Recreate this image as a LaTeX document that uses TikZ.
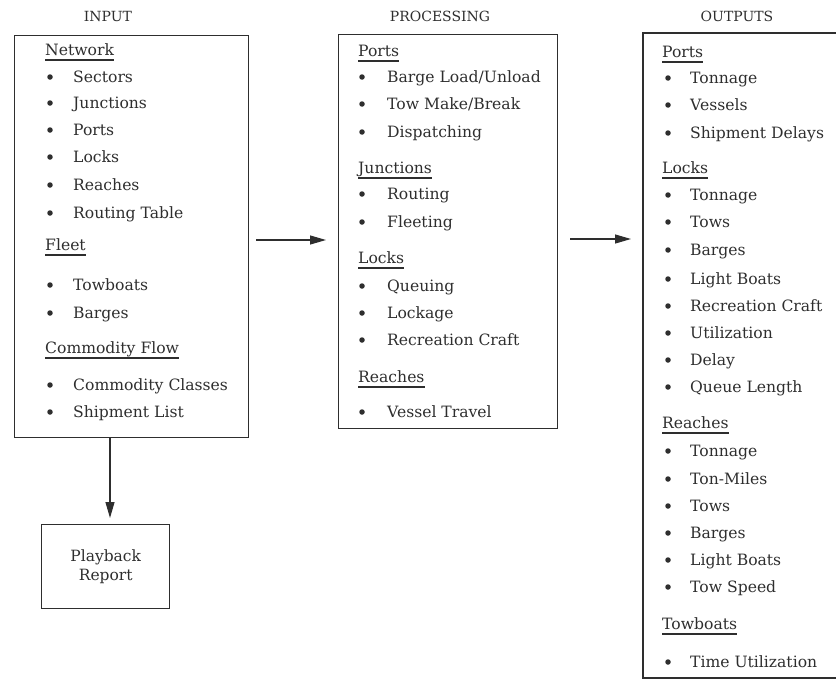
\documentclass[tikz,border=0pt]{standalone}
\usepackage{fontspec}
\setmainfont{DejaVu Serif}
\usetikzlibrary{arrows.meta}
\definecolor{ink}{HTML}{2E2E2E}
\tikzset{
  title/.style={font=\fontsize{14}{16}\selectfont, text=ink, inner sep=0pt, anchor=base},
  frame/.style={draw=ink, line width=1.4pt},
  headtext/.style={font=\fontsize{15.6}{18}\selectfont, text=ink, inner sep=0pt, anchor=base west},
  itemtext/.style={font=\fontsize{15.6}{18}\selectfont, text=ink, inner sep=0pt, anchor=base west},
  dot/.style={circle, fill=ink, inner sep=0pt, minimum size=5.5pt},
  uline/.style={draw=ink, line width=1.3pt},
  flow/.style={draw=ink, line width=1.2pt, -{Triangle[length=16pt, width=9pt]}},
}
% heading: name, x, y (visual centre), text
\newcommand\hd[4]{%
  \node[headtext] (#1) at (#2,#3+5.5) {#4};
  \draw[uline] ([yshift=-4.5pt]#1.base west) -- ([yshift=-4.5pt]#1.base east);}
% bullet item: name, bullet x, text x, y, text
\newcommand\bl[5]{%
  \node[dot] (#1d) at (#2,#4) {};
  \node[itemtext] (#1) at (#3,#4+5.5) {#5};}
\begin{document}
\begin{tikzpicture}[x=1pt, y=-1pt]
\useasboundingbox (0,0) rectangle (836,680);

% column titles
\node[title] (tin) at (108,21) {INPUT};
\node[title] (tpr) at (440,21) {PROCESSING};
\node[title] (tout) at (737,21) {OUTPUTS};

% frames
\node[frame, minimum width=234pt, minimum height=402pt, anchor=north west, inner sep=0pt] (input) at (14,35) {};
\node[frame, minimum width=219pt, minimum height=394pt, anchor=north west, inner sep=0pt] (proc) at (338,34) {};
% the outputs frame runs on past the right edge
\coordinate (otr) at (836,33);
\coordinate (otl) at (643,33);
\coordinate (obl) at (643,678);
\coordinate (obr) at (836,678);
\draw[frame] (otr) -- (otl) -- (obl) -- (obr);
\node[frame, minimum width=128pt, minimum height=84pt, anchor=north west, inner sep=0pt,
      align=center, font=\fontsize{15.5}{19}\selectfont, text=ink] (play) at (41,524) {Playback\\Report};

% input column
\hd{h1}{45}{50}{Network}
\bl{i1}{50}{73}{77}{Sectors}
\bl{i2}{50}{73}{103}{Junctions}
\bl{i3}{50}{73}{130}{Ports}
\bl{i4}{50}{73}{157}{Locks}
\bl{i5}{50}{73}{185}{Reaches}
\bl{i6}{50}{73}{213}{Routing Table}
\hd{h2}{45}{245}{Fleet}
\bl{i7}{50}{73}{285}{Towboats}
\bl{i8}{50}{73}{313}{Barges}
\hd{h3}{45}{348}{Commodity Flow}
\bl{i9}{50}{73}{385}{Commodity Classes}
\bl{i10}{50}{73}{412}{Shipment List}

% processing column
\hd{p0}{358}{51}{Ports}
\bl{p1}{362}{387}{77}{Barge Load/Unload}
\bl{p2}{362}{387}{104}{Tow Make/Break}
\bl{p3}{362}{387}{132}{Dispatching}
\hd{p4}{358}{168}{Junctions}
\bl{p5}{362}{387}{194}{Routing}
\bl{p6}{362}{387}{222}{Fleeting}
\hd{p7}{358}{258}{Locks}
\bl{p8}{362}{387}{286}{Queuing}
\bl{p9}{362}{387}{313}{Lockage}
\bl{p10}{362}{387}{340}{Recreation Craft}
\hd{p11}{358}{377}{Reaches}
\bl{p12}{362}{387}{412}{Vessel Travel}

% outputs column
\hd{o0}{662}{52}{Ports}
\bl{o1}{668}{690}{78}{Tonnage}
\bl{o2}{668}{690}{105}{Vessels}
\bl{o3}{668}{690}{133}{Shipment Delays}
\hd{o4}{662}{168}{Locks}
\bl{o5}{668}{690}{195}{Tonnage}
\bl{o6}{668}{690}{222}{Tows}
\bl{o7}{668}{690}{250}{Barges}
\bl{o8}{668}{690}{279}{Light Boats}
\bl{o9}{668}{690}{306}{Recreation Craft}
\bl{o10}{668}{690}{333}{Utilization}
\bl{o11}{668}{690}{360}{Delay}
\bl{o12}{668}{690}{387}{Queue Length}
\hd{o13}{662}{423}{Reaches}
\bl{o14}{668}{690}{451}{Tonnage}
\bl{o15}{668}{690}{479}{Ton-Miles}
\bl{o16}{668}{690}{506}{Tows}
\bl{o17}{668}{690}{533}{Barges}
\bl{o18}{668}{690}{560}{Light Boats}
\bl{o19}{668}{690}{587}{Tow Speed}
\hd{o20}{662}{624}{Towboats}
\bl{o21}{668}{690}{662}{Time Utilization}

% connectors
\coordinate (a1s) at (256,240);
\coordinate (a1e) at (326,240);
\coordinate (a2s) at (570,239);
\coordinate (a2e) at (631,239);
\coordinate (a3s) at (110,438);
\coordinate (a3e) at (110,518);
\draw[flow] (a1s) -- (a1e);
\draw[flow] (a2s) -- (a2e);
\draw[flow] (a3s) -- (a3e);
\end{tikzpicture}
\end{document}
